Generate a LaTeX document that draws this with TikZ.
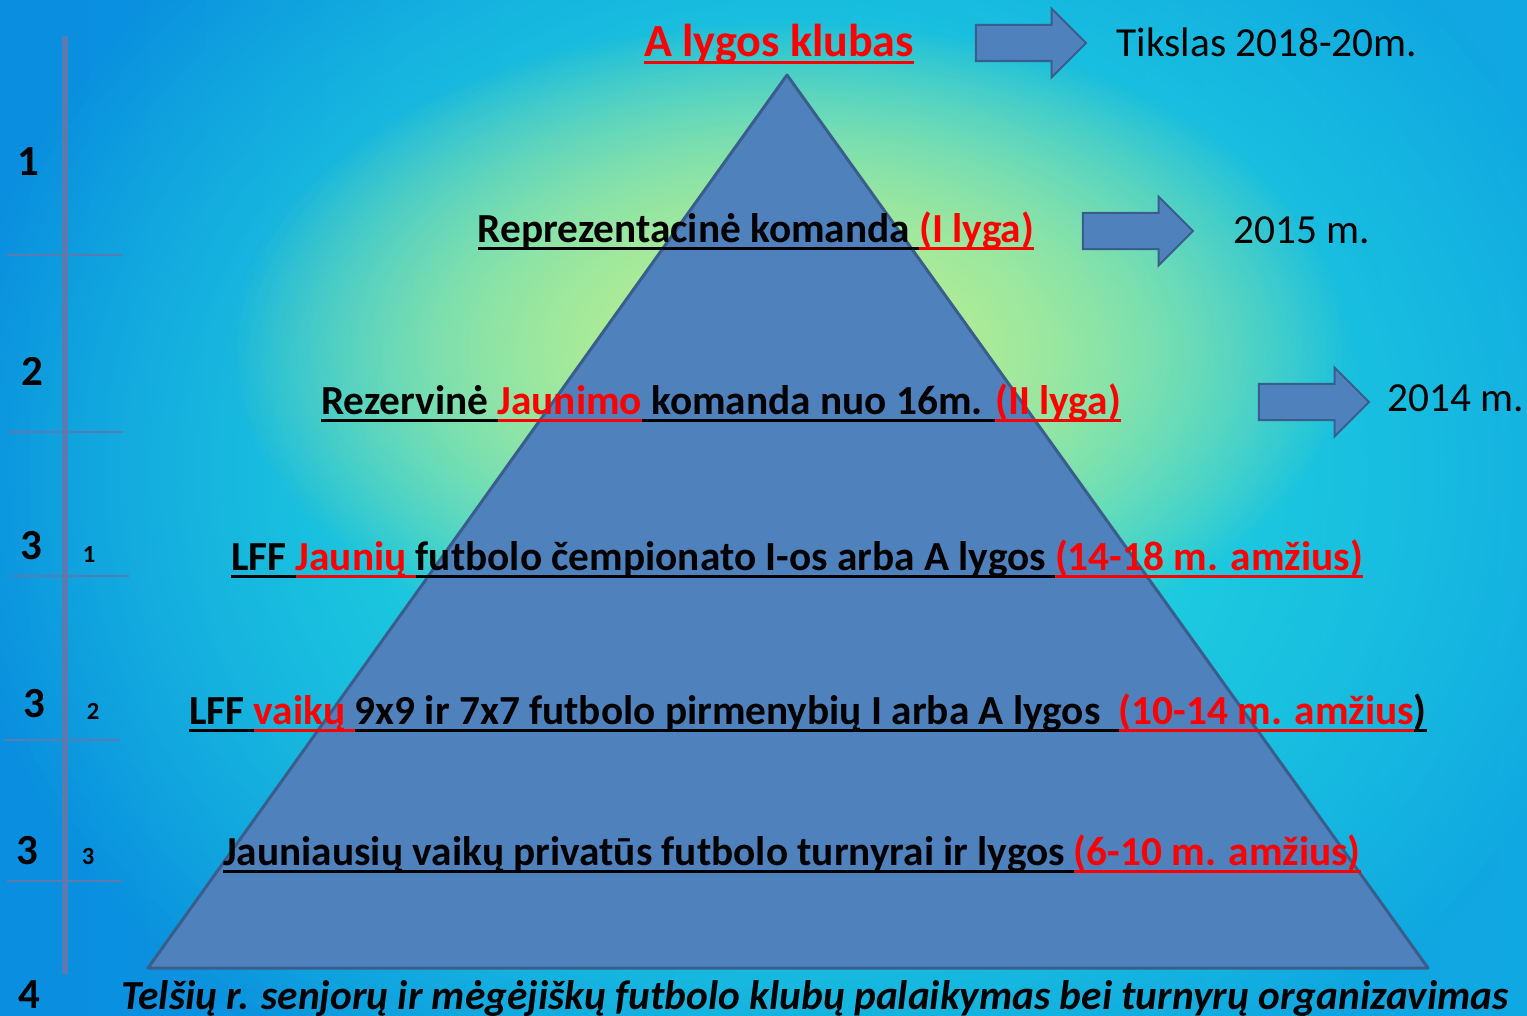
\documentclass[tikz,border=0pt]{standalone}
\usepackage{fontspec}
\setmainfont{Carlito}
\usetikzlibrary{shapes.arrows,fadings}

\definecolor{pyrfill}{HTML}{4F81BD}
\definecolor{pyredge}{HTML}{3A5E8C}
\definecolor{scaleline}{HTML}{5A7BB0}
\definecolor{bgleft}{HTML}{0A8EE0}
\definecolor{bgmid}{HTML}{1BC4E1}
\definecolor{bgright}{HTML}{10A8E2}
\definecolor{glowcyan}{HTML}{22D6DE}
\definecolor{glowlime}{HTML}{BCEE90}
\definecolor{lvlred}{HTML}{FF0000}

% underlined piece of text, rule in the current colour
\newcommand{\uln}[1]{\sbox0{#1}\rlap{\rule[-0.16em]{\wd0}{0.065em}}\usebox0}
\newcommand{\rd}[1]{\textcolor{lvlred}{#1}}

\tikzfading[name=glowfade, inner color=transparent!0, outer color=transparent!100]

\begin{document}
\begin{tikzpicture}[x=0.01cm, y=-0.01cm,
  lvl/.style={font=\fontsize{11.75}{13}\selectfont\bfseries, inner sep=0, anchor=base},
  yr/.style={font=\fontsize{11.75}{13}\selectfont, inner sep=0, anchor=base},
  num/.style={font=\fontsize{12.2}{14}\selectfont\bfseries, inner sep=0, anchor=base},
  subnum/.style={font=\fontsize{7}{8}\selectfont\bfseries, inner sep=0, anchor=base},
  arrowbox/.style={single arrow, draw=pyredge, fill=pyrfill, line width=0.02cm,
    minimum height=1.1cm, single arrow head extend=0.165cm,
    inner xsep=0, inner ysep=0.17cm}]
  \useasboundingbox (0,0) rectangle (1527,1016);
  % background, the glows are stacked twice to get a fuller core
  \begin{scope}
    \clip (0,0) rectangle (1527,1016);
    \shade[left color=bgleft, middle color=bgmid, right color=bgright] (0,0) rectangle (1527,1016);
    \foreach \k in {1,2}
      \fill[glowcyan, path fading=glowfade] (790,470) ellipse (850 and 720);
    \foreach \k in {1,2}
      \fill[glowlime, path fading=glowfade] (790,350) ellipse (560 and 330);
  \end{scope}

  % scale on the left
  \draw[scaleline, line width=0.06cm] (65,36) -- (65,974);
  \foreach \y/\a/\b in {255/7/122, 432/8/123, 576/13/129, 740/4/120, 881/7/122}
    \draw[scaleline, line width=0.02cm] (\a,\y) -- (\b,\y);
  \foreach \x/\y/\n in {28/176/1, 32/386/2, 31/560/3, 34/718/3, 27/865/3, 29/1008/4}
    \node[num] (n\n-\y) at (\x,\y) {\n};
  \foreach \x/\y/\n in {89/563/1, 93/720/2, 88/865/3}
    \node[subnum] (s\n) at (\x,\y) {\n};

  % pyramid
  \coordinate (apex) at (787,75);
  \coordinate (baseR) at (1428,968);
  \coordinate (baseL) at (148,968);
  \filldraw[fill=pyrfill, draw=pyredge, line width=0.03cm, line join=round]
    (apex) -- (baseR) -- (baseL) -- cycle;

  % goals
  \node[arrowbox] (arr1) at (1022,43) {};
  \node[arrowbox] (arr2) at (1129,231) {};
  \node[arrowbox] (arr3) at (1305,402) {};
  \node[yr] (goal) at (1267,57) {Tikslas 2018-20m.};
  \node[yr] (y2015) at (1302,244) {2015 m.};
  \node[yr] (y2014) at (1456,412) {2014 m.};

  % levels
  \node[lvl, font=\fontsize{13.1}{14}\selectfont\bfseries] (top) at (779,57)
    {\rd{\uln{A lygos klubas}}};
  \node[lvl] (rep) at (756,243)
    {\uln{Reprezentacinė komanda }\rd{\uln{(I lyga)}}};
  \node[lvl] (rez) at (721,415)
    {\uln{Rezervinė }\rd{\uln{Jaunimo}}\uln{ komanda nuo 16m. }\rd{\uln{(II lyga)}}};
  \node[lvl] (jaun) at (797,571)
    {\uln{LFF }\rd{\uln{Jaunių }}\uln{futbolo čempionato I-os arba A lygos }\rd{\uln{(14-18 m. amžius)}}};
  \node[lvl] (vaik) at (808,725)
    {\uln{LFF }\rd{\uln{vaikų }}\uln{9x9 ir 7x7 futbolo pirmenybių I arba A lygos\ \ }\rd{\uln{(10-14 m. amžius}}\uln{)}};
  \node[lvl] (priv) at (792,866)
    {\uln{Jauniausių vaikų privatūs futbolo turnyrai ir lygos }\rd{\uln{(6-10 m. amžius)}}};
  \node[lvl, font=\fontsize{11.75}{13}\selectfont\bfseries\itshape] (sen) at (815,1009)
    {Telšių r. senjorų ir mėgėjiškų futbolo klubų palaikymas bei turnyrų organizavimas};
\end{tikzpicture}
\end{document}
